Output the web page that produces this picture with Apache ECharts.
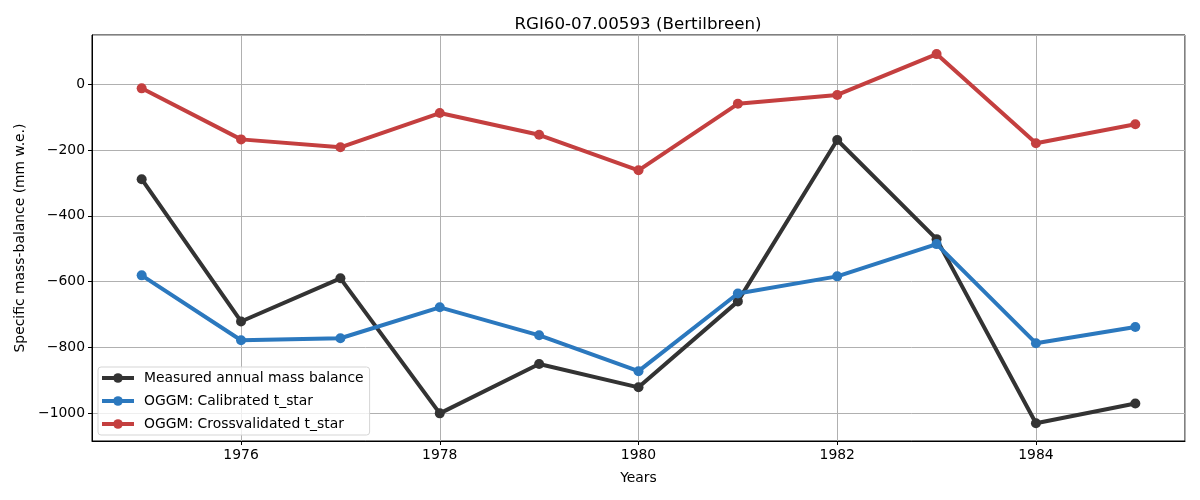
<!DOCTYPE html>
<html><head><meta charset="utf-8">
<script src="https://cdn.jsdelivr.net/npm/echarts@6/dist/echarts.min.js"></script>
<style>html,body{margin:0;padding:0;background:#fff}#c{width:1200px;height:500px}</style>
</head><body><div id="c"></div>
<script>
const years = [1975,1976,1977,1978,1979,1980,1981,1982,1983,1984,1985];
const measured = [-289,-721,-590,-1000,-850,-921,-660,-170,-471,-1030,-970];
const calibrated = [-581,-778,-772,-678,-763,-872,-636,-584,-486,-787,-738];
const crossval = [-13,-168,-192,-88,-154,-262,-60,-33,91,-180,-122];
const seriesNames = ['Measured annual mass balance','OGGM: Calibrated t_star','OGGM: Crossvalidated t_star'];
const colors = ['#333333','#2b78be','#c43f3f'];
const pair = arr => years.map((y,i)=>[y,arr[i]]);
const font = 'DejaVu Sans';
const fs = 13.9;
const fmt = v => (v < 0 ? '\u2212' + Math.abs(v) : String(v));
const chart = echarts.init(document.getElementById('c'));
const mk = (name, data, color, z) => ({
  name, type:'line', data: pair(data), z,
  symbol:'circle', symbolSize:10,
  lineStyle:{width:4,color}, itemStyle:{color},
  emphasis:{disabled:true}
});
chart.setOption({
  animation:false,
  color: colors,
  title:{text:'RGI60-07.00593 (Bertilbreen)', left:633, top:11, textAlign:'center',
    textStyle:{fontFamily:font, fontSize:16.7, fontWeight:'normal', color:'#000'}},
  grid:{left:92, right:15, top:35, bottom:59, show:true, borderColor:'#000', borderWidth:1, containLabel:false},
  legend:{orient:'vertical', left:98, top:367, itemWidth:32, itemHeight:12, itemGap:9,
    padding:[4,6,4,2], borderColor:'#d5d5d5', borderWidth:1, borderRadius:3, backgroundColor:'rgba(255,255,255,0.8)',
    lineStyle:{width:4},
    textStyle:{fontFamily:font, fontSize:fs, color:'#000', padding:[0,0,0,5]},
    data: seriesNames},
  xAxis:{type:'value', min:1974.5, max:1985.5, splitNumber:5,
    name:'Years', nameLocation:'middle', nameGap:30, nameTextStyle:{fontFamily:font, fontSize:fs, color:'#000'},
    axisLine:{show:true, onZero:false, lineStyle:{color:'#000'}},
    axisTick:{show:true, inside:false, length:4, lineStyle:{color:'#000'}},
    axisLabel:{fontFamily:font, fontSize:fs, color:'#000', margin:7, showMinLabel:false, showMaxLabel:false,
      formatter: v => String(v)},
    splitLine:{show:true, lineStyle:{color:'#b0b0b0', width:1}}},
  yAxis:{type:'value', min:-1084, max:149, splitNumber:6,
    name:'Specific mass-balance (mm w.e.)', nameLocation:'middle', nameGap:65, nameRotate:90,
    nameTextStyle:{fontFamily:font, fontSize:fs, color:'#000'},
    axisLine:{show:true, onZero:false, lineStyle:{color:'#000'}},
    axisTick:{show:true, inside:false, length:4, lineStyle:{color:'#000'}},
    axisLabel:{fontFamily:font, fontSize:fs, color:'#000', margin:7, showMinLabel:false, showMaxLabel:false,
      formatter: fmt},
    splitLine:{show:true, lineStyle:{color:'#b0b0b0', width:1}}},
  series:[
    mk(seriesNames[0], measured, colors[0], 3),
    mk(seriesNames[1], calibrated, colors[1], 4),
    mk(seriesNames[2], crossval, colors[2], 5)
  ]
});
</script></body></html>
